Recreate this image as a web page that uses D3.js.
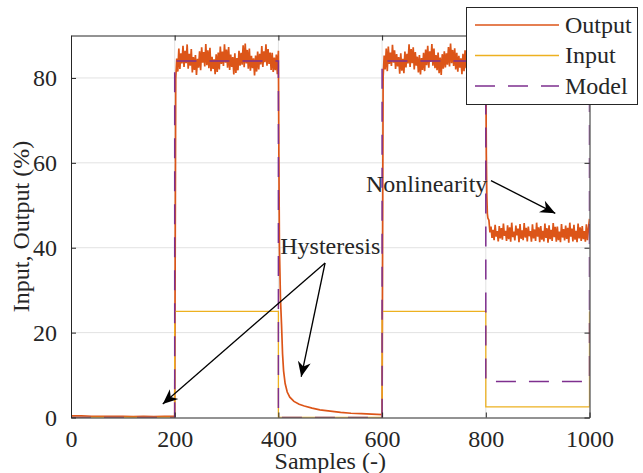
<!DOCTYPE html>
<html lang="en">
<head>
    <meta charset="UTF-8">
    <title>Input / Output</title>
</head>
<style>
    body { margin: 0; background: #fff; }
    text { font-family: "Liberation Serif", "Times New Roman", serif; fill: #262626; }
    .grid line { stroke: #e2e2e2; stroke-width: 1px; }
    .output { fill: none; stroke: #DC5518; stroke-width: 1.7px; stroke-linejoin: miter; }
    .input { fill: none; stroke: #EDB120; stroke-width: 1.3px; }
    .model { fill: none; stroke: #7E2F8E; stroke-width: 1.5px; stroke-dasharray: 20,13; }
    .legend-line.output { stroke-width: 1.3px; }
</style>
<body>
<svg width="643" height="473"></svg>
<script src="https://d3js.org/d3.v7.min.js"></script>
<script>
    // step signals: value held from each edge until the next one
    var stepEdges = [0, 200, 400, 600, 800, 1000];
    var inputLevels = [0, 25, 0, 25, 2.5, 25];
    var modelLevels = [0, 84, 0, 84, 8.5, 84];

    // output, samples 0-200 every 20
    var outIdle = [0.4, 0.4, 0.3, 0.3, 0.3, 0.3, 0.2, 0.3, 0.2, 0.3, 0.3];
    // output, samples 202-400 every 2
    var outHigh1 = [
        79.8, 84.6, 81.5, 86.9, 82.1, 85.8, 83.4, 87.6, 82.6, 86.4, 83.5, 87.9, 82.2, 85.7, 82.9, 86.8, 81.3, 84.9, 81.9, 85.4,
        80.7, 84.5, 82.4, 86.3, 81.8, 87.2, 83.6, 86.1, 82.7, 88.0, 83.0, 86.5, 82.3, 87.1, 81.6, 85.0, 82.1, 84.4, 80.9, 85.6,
        81.4, 86.0, 82.0, 87.4, 83.3, 86.2, 82.8, 87.9, 83.6, 86.7, 82.4, 87.3, 81.9, 85.5, 82.6, 84.9, 80.8, 85.8, 81.2, 84.7,
        81.8, 86.4, 82.9, 85.9, 83.1, 87.7, 82.5, 88.1, 83.4, 86.6, 82.2, 86.9, 81.7, 85.2, 82.3, 84.6, 80.6, 85.3, 81.5, 86.2,
        82.0, 85.7, 83.2, 87.5, 82.6, 86.3, 83.7, 87.9, 82.9, 86.8, 83.3, 86.0, 81.9, 85.9, 81.4, 84.8, 81.8, 85.5, 80.9, 86.4
    ];
    // output decay after the step down at 400
    var decaySamples = [401, 402, 404, 406, 408, 410, 413, 417, 422, 430, 440, 450, 465, 480, 500, 520, 540, 560, 580, 600];
    var decayValues = [60, 40, 28, 22, 15, 11, 8, 6, 4.8, 3.8, 3.1, 2.7, 2.2, 1.8, 1.5, 1.2, 1.0, 0.9, 0.8, 0.7];
    // output, samples 602-800 every 2
    var outHigh2 = [
        80.2, 85.3, 82.0, 86.9, 81.6, 87.4, 83.3, 86.0, 82.8, 87.8, 83.6, 86.5, 82.1, 85.6, 82.7, 84.9, 81.0, 85.8, 81.7, 84.5,
        81.1, 86.2, 82.5, 85.7, 83.4, 87.9, 82.6, 86.8, 83.5, 87.2, 82.0, 86.1, 82.9, 85.0, 81.3, 85.4, 80.8, 84.7, 81.9, 85.9,
        81.6, 86.7, 83.0, 87.6, 82.4, 86.3, 83.8, 88.0, 82.9, 86.9, 82.3, 85.4, 81.8, 86.0, 81.1, 84.8, 80.7, 85.6, 82.2, 86.3,
        82.5, 85.8, 83.1, 87.3, 82.7, 88.1, 83.5, 86.6, 82.8, 87.0, 82.0, 85.9, 81.5, 85.2, 82.4, 84.6, 80.9, 85.7, 81.6, 86.5,
        82.3, 87.0, 83.4, 86.2, 83.0, 87.8, 82.6, 87.4, 83.2, 86.1, 81.9, 86.6, 82.5, 85.3, 81.2, 84.9, 81.7, 85.8, 82.1, 86.8
    ];
    // output settling after the step at 800
    var settleSamples = [801, 802, 803, 804];
    var settleValues = [62, 52, 48, 47];
    // output, samples 806-1000 every 2
    var outLow = [
        46.5, 43.6, 45.0, 42.3, 44.2, 41.8, 45.4, 42.6, 43.9, 41.5, 45.1, 42.2, 44.6, 41.9, 45.7, 42.8, 44.0, 41.6, 45.3, 42.0,
        44.8, 41.4, 45.9, 42.5, 43.8, 41.7, 45.2, 42.9, 44.5, 41.3, 45.6, 42.1, 44.1, 41.8, 45.8, 42.4, 44.7, 41.5, 45.0, 42.7,
        43.9, 41.4, 45.5, 42.2, 44.3, 41.6, 45.9, 42.6, 44.8, 41.3, 45.1, 41.9, 44.0, 41.5, 45.7, 42.3, 44.6, 41.2, 45.3, 42.0,
        44.2, 41.6, 45.8, 42.5, 44.9, 41.4, 45.0, 41.8, 43.8, 41.3, 45.6, 42.4, 44.4, 41.7, 45.2, 42.1, 44.7, 41.2, 45.9, 42.6,
        44.5, 41.5, 45.4, 41.9, 44.0, 41.3, 45.7, 42.2, 44.8, 41.6, 45.1, 42.0, 43.9, 41.4, 45.5, 41.8, 44.6, 46.8
    ];

    var xTicks = [0, 200, 400, 600, 800, 1000];
    var yTicks = [0, 20, 40, 60, 80];
    var legendNames = ["Output", "Input", "Model"];

    // annotations in data units: [label, labelX, labelY, fromX, fromY, [[toX, toY], ...]]
    var notes = [
        ["Hysteresis", 500, 40.5, 490, 36.4, [[177, 3.2], [444, 9.6]]],
        ["Nonlinearity", 686, 55.2, 810, 55.8, [[934, 48.1]]]
    ];

    var svg = d3.select("svg"),
        margin = {top: 35.5, right: 53.5, bottom: 55.5, left: 71},
        width = +svg.attr("width") - margin.left - margin.right,
        height = +svg.attr("height") - margin.top - margin.bottom;

    var x = d3.scaleLinear().domain([0, 1000]).range([0, width]),
        y = d3.scaleLinear().domain([0, 90]).range([height, 0]);

    // assemble output samples
    var output = [];
    outIdle.forEach(function (v, i) { output.push([i * 20, v]); });
    outHigh1.forEach(function (v, i) { output.push([202 + i * 2, v]); });
    decaySamples.forEach(function (s, i) { output.push([s, decayValues[i]]); });
    outHigh2.forEach(function (v, i) { output.push([602 + i * 2, v]); });
    settleSamples.forEach(function (s, i) { output.push([s, settleValues[i]]); });
    outLow.forEach(function (v, i) { output.push([806 + i * 2, v]); });

    function steps(levels) {
        return stepEdges.map(function (e, i) { return [e, levels[i]]; });
    }

    var g = svg.append("g").attr("transform", "translate(" + margin.left + "," + margin.top + ")");

    svg.append("defs").append("clipPath").attr("id", "clip")
        .append("rect").attr("width", width).attr("height", height);

    var marker = svg.select("defs").append("marker")
        .attr("id", "head")
        .attr("markerUnits", "userSpaceOnUse")
        .attr("viewBox", "-16 -8 17 16")
        .attr("markerWidth", 17).attr("markerHeight", 16)
        .attr("refX", 0).attr("refY", 0)
        .attr("orient", "auto");
    marker.append("path").attr("d", "M0,0L-15,-6.5L-10.5,0L-15,6.5Z").attr("fill", "#000");

    // grid
    g.append("g").attr("class", "grid").selectAll("line").data(xTicks.slice(1, -1)).enter().append("line")
        .attr("x1", function (d) { return x(d); }).attr("x2", function (d) { return x(d); })
        .attr("y1", 0).attr("y2", height);
    g.append("g").attr("class", "grid").selectAll("line").data(yTicks.slice(1)).enter().append("line")
        .attr("y1", function (d) { return y(d); }).attr("y2", function (d) { return y(d); })
        .attr("x1", 0).attr("x2", width);

    var line = d3.line().x(function (d) { return x(d[0]); }).y(function (d) { return y(d[1]); });
    var stepLine = d3.line().curve(d3.curveStepAfter)
        .x(function (d) { return x(d[0]); }).y(function (d) { return y(d[1]); });

    var plot = g.append("g").attr("clip-path", "url(#clip)");
    plot.append("path").datum(output).attr("class", "output").attr("d", line);
    plot.append("path").datum(steps(inputLevels)).attr("class", "input").attr("d", stepLine);
    plot.append("path").datum(steps(modelLevels)).attr("class", "model").attr("d", stepLine);

    // axes box with inward ticks on all four sides
    var tk = 5, fmt = d3.format("d");
    g.append("g").attr("transform", "translate(0," + height + ")")
        .call(d3.axisBottom(x).tickValues(xTicks).tickFormat(fmt).tickSizeInner(-tk).tickSizeOuter(0).tickPadding(12));
    g.append("g").call(d3.axisTop(x).tickValues(xTicks).tickSizeInner(-tk).tickSizeOuter(0).tickFormat(""));
    g.append("g")
        .call(d3.axisLeft(y).tickValues(yTicks).tickFormat(fmt).tickSizeInner(-tk).tickSizeOuter(0).tickPadding(14));
    g.append("g").attr("transform", "translate(" + width + ",0)")
        .call(d3.axisRight(y).tickValues(yTicks).tickSizeInner(-tk).tickSizeOuter(0).tickFormat(""));
    g.selectAll(".domain, .tick line").attr("stroke", "#262626");
    g.selectAll(".tick text").attr("font-size", 24).attr("font-family", null).attr("fill", "#262626");

    // axis labels
    g.append("text").attr("x", width / 2).attr("y", height + 51)
        .attr("text-anchor", "middle").attr("font-size", 24).text("Samples (-)");
    g.append("text").attr("transform", "rotate(-90)")
        .attr("x", -height / 2).attr("y", -42)
        .attr("text-anchor", "middle").attr("font-size", 24).text("Input, Output (%)");

    // annotations
    notes.forEach(function (n) {
        g.append("text").attr("x", x(n[1])).attr("y", y(n[2])).attr("dy", "0.35em")
            .attr("text-anchor", "middle").attr("font-size", 24).attr("fill", "#000").text(n[0]);
        n[5].forEach(function (t) {
            g.append("line")
                .attr("x1", x(n[3])).attr("y1", y(n[4]))
                .attr("x2", x(t[0])).attr("y2", y(t[1]))
                .attr("stroke", "#000").attr("stroke-width", 1.3)
                .attr("marker-end", "url(#head)");
        });
    });

    // legend
    var legend = svg.append("g").attr("transform", "translate(466.5,7.5)");
    legend.append("rect").attr("width", 171).attr("height", 97)
        .attr("fill", "#fff").attr("stroke", "#262626").attr("stroke-width", 1);
    var classes = ["output", "input", "model"];
    legendNames.forEach(function (name, i) {
        var ly = 17.5 + i * 30.5;
        legend.append("line").attr("class", "legend-line " + classes[i])
            .attr("x1", 8.5).attr("x2", 92.5).attr("y1", ly).attr("y2", ly);
        legend.append("text").attr("x", 98.5).attr("y", ly).attr("dy", "0.33em")
            .attr("font-size", 24).attr("fill", "#000").text(name);
    });
</script>
</body>
</html>
